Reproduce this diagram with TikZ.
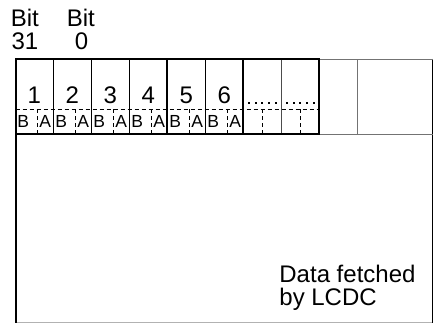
\documentclass[tikz,border=0pt]{standalone}
\usepackage{fontspec}
\setmainfont{Liberation Sans}
\begin{document}
\begin{tikzpicture}[x=1pt,y=-1pt,
  thickline/.style={line width=2pt},
  thinline/.style={line width=1pt},
  grayline/.style={line width=1pt, draw=black!55},
  lightline/.style={line width=1pt, draw=black!30},
  dashline/.style={line width=0.9pt, dash pattern=on 4pt off 3pt},
  big/.style={font=\fontsize{24}{24}\selectfont, inner sep=0pt},
  small/.style={font=\fontsize{17.5}{17.5}\selectfont, inner sep=0pt, anchor=base},
]
\useasboundingbox (0,0) rectangle (435,323);

% outer frame
\draw[lightline] (15,322.3) -- (433,322.3);
\draw[line width=1.5pt] (432.7,59) -- (432.7,322.8);
\draw[thickline] (15.5,58.5) -- (15.5,322.8);
% right part of cell row
\draw[grayline] (319,59.3) -- (433,59.3);
\draw[grayline] (357,59.3) -- (357,134.5);
\draw[grayline] (319,134.5) -- (433,134.5);

% dashed separator line
\draw[dashline] (15.5,109.3) -- (319,109.3);

% thin cell separators
\foreach \i in {1,2,3,5}
  \draw[thinline] (15.3+38*\i,59.5) -- (15.3+38*\i,134);
\draw[thinline, draw=black!70] (281.3,59.5) -- (281.3,134);

% numbered cells: labels and B/A dividers
\foreach \i in {1,...,6}{
  \pgfmathsetmacro{\L}{15.3+38*(\i-1)}
  \node[big, anchor=base] (n\i) at (\L+19,104) {\i};
  \node[small] (b\i) at (\L+7.8,127.5) {B};
  \node[small] (a\i) at (\L+29.8,127.5) {A};
  \draw[dashline] (\L+22,109.3) -- (\L+22,134);
}
% dotted cells
\foreach \c in {243.3,281.3}{
  \draw[dashline] (\c+19.5,109.3) -- (\c+19.5,134);
  \foreach \k in {0,...,4}
    \fill (\c+4.7+6.67*\k,101.7) rectangle ++(2,2);
}

% thick boxes
\draw[thickline] (15.5,59.5) rectangle (319.3,134);
\draw[thickline] (167.3,59.5) -- (167.3,134);
\draw[thickline] (243.3,59.5) -- (243.3,134);

% labels
\node[big, anchor=base west] (bit31) at (10.6,27) {Bit};
\node[big, anchor=base west] (n31) at (11.3,50) {31};
\node[big, anchor=base west] (bit0) at (66.6,27) {Bit};
\node[big, anchor=base] (n0) at (81.5,50) {0};
\node[big, anchor=base west] (data) at (279.2,282.3) {Data fetched};
\node[big, anchor=base west] (lcdc) at (279.2,305) {by LCDC};
\end{tikzpicture}
\end{document}
